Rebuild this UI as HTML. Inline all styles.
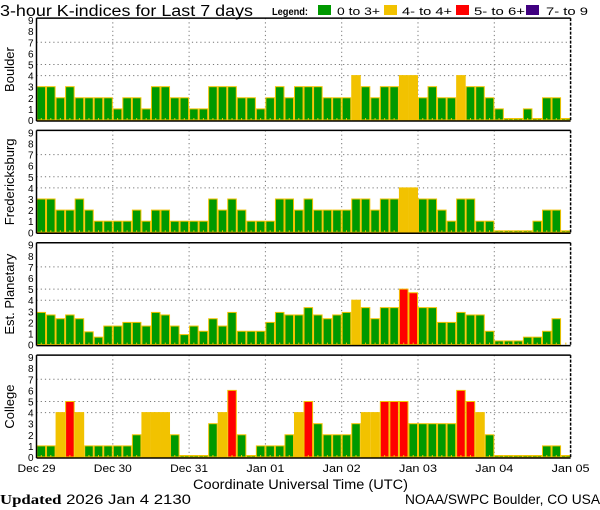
<!DOCTYPE html>
<html><head><meta charset="utf-8"><style>
html,body{margin:0;padding:0;background:#fff}
svg{display:block}
text{font-family:"Liberation Sans","DejaVu Sans",sans-serif}
</style></head><body>
<svg id="chart" width="600" height="510" viewBox="0 0 600 510" xmlns="http://www.w3.org/2000/svg">
<text x="0" y="16" font-size="15.5" fill="#000" textLength="253" lengthAdjust="spacingAndGlyphs">3-hour K-indices for Last 7 days</text>
<g>
<text x="272" y="15" font-size="10" font-weight="bold" textLength="36" lengthAdjust="spacingAndGlyphs">Legend:</text>
<rect x="318" y="5" width="13" height="10" fill="#009900"/>
<text x="337" y="15" font-size="11" textLength="43" lengthAdjust="spacingAndGlyphs">0 to 3+</text>
<rect x="384" y="5" width="13" height="10" fill="#f2c200"/>
<text x="402" y="15" font-size="11" textLength="50" lengthAdjust="spacingAndGlyphs">4- to 4+</text>
<rect x="456" y="5" width="13" height="10" fill="#ff0000"/>
<text x="474" y="15" font-size="11" textLength="51" lengthAdjust="spacingAndGlyphs">5- to 6+</text>
<rect x="526" y="5" width="13" height="10" fill="#400080"/>
<text x="546" y="15" font-size="11" textLength="42" lengthAdjust="spacingAndGlyphs">7- to 9</text>
</g>
<g id="panels"></g>
<text x="193" y="489" font-size="13.5" textLength="215" lengthAdjust="spacingAndGlyphs">Coordinate Universal Time (UTC)</text>
<text x="0" y="504" font-size="13.5" textLength="191" lengthAdjust="spacingAndGlyphs"><tspan font-family="Liberation Serif, serif" font-weight="bold">Updated</tspan> 2026 Jan  4 2130</text>
<text x="405" y="504" font-size="13.5" textLength="195" lengthAdjust="spacingAndGlyphs">NOAA/SWPC Boulder, CO USA</text>
</svg>
<script>
const stations = ["Boulder","Fredericksburg","Est. Planetary","College"];
const dayLabels = ["Dec 29","Dec 30","Dec 31","Jan 01","Jan 02","Jan 03","Jan 04","Jan 05"];
const yTicks = [0,1,2,3,4,5,6,7,8,9];
const boulder = [3,3,2,3,2,2,2,2, 1,2,2,1,3,3,2,2, 1,1,3,3,3,2,2,1, 2,3,2,3,3,3,2,2, 2,4,3,2,3,3,4,4, 2,3,2,2,4,3,3,2, 1,0,0,1,0,2,2,0];
const fredericksburg = [3,3,2,2,3,2,1,1, 1,1,2,1,2,2,1,1, 1,1,3,2,3,2,1,1, 1,3,3,2,3,2,2,2, 2,3,3,2,3,3,4,4, 3,3,2,1,3,3,1,1, 0,0,0,0,1,2,2,0];
const planetary = [2.9,2.67,2.33,2.67,2.33,1.15,0.67,1.67, 1.67,2,2,1.67,2.9,2.67,1.67,0.9, 1.67,1.2,2.33,1.67,2.9,1.2,1.2,1.2, 2,2.9,2.67,2.67,3.33,2.67,2.33,2.67, 2.9,4,3.33,2.33,3.33,3.33,5,4.67, 3.33,3.33,2,2,2.9,2.67,2.67,1.2, 0.33,0.33,0.33,0.67,0.67,1.2,2.33,null];
const college = [1,1,4,5,4,1,1,1, 1,1,2,4,4,4,2,0, 0,0,3,4,6,2,0,1, 1,1,2,4,5,3,2,2, 2,3,4,4,5,5,5,3, 3,3,3,3,6,5,4,2, 0,0,0,0,0,1,1,0];
const seriesList = [boulder,fredericksburg,planetary,college];

const NS="http://www.w3.org/2000/svg";
const X0=36.5, X1=570.6, nBars=56, UNIT=11.1;
const zeros=[120,232.3,344.6,457];
function xScale(i){return X0+(X1-X0)*i/nBars;}
function yScale(p,v){return zeros[p]-v*UNIT;}
function color(v){return v>=6.67?"#400080":v>=4.67?"#ff0000":v>=3.67?"#f2c200":"#009900";}
function mk(tag,attrs,parent){const e=document.createElementNS(NS,tag);for(const k in attrs)e.setAttribute(k,attrs[k]);parent.appendChild(e);return e;}
const root=document.getElementById('panels');
seriesList.forEach((vals,p)=>{
  const g=mk('g',{},root);
  
  
  const top=yScale(p,9)-2, bot=zeros[p]+1;
  [4,5,7].forEach(v=>{const l=mk('line',{x1:X0,x2:X1,y1:yScale(p,v),y2:yScale(p,v),stroke:'#777','stroke-dasharray':'1.2,3','stroke-width':1},g);
    });
  for(let d=1;d<7;d++){const x=xScale(d*8);const l=mk('line',{x1:x,x2:x,y1:top,y2:bot,stroke:'#777','stroke-dasharray':'1.2,3','stroke-width':1},g);
    }
  vals.forEach((v,i)=>{
    if(v===null)return;
    const x=xScale(i), w=xScale(i+1)-x;
    const h=Math.max(v*UNIT,1.5);
    const r=mk('rect',{x:x+0.5,y:zeros[p]-h,width:w-1,height:h,fill:color(v),stroke:'#f2c200','stroke-width':1},g);
    
    
  });
  for(let i=0;i<nBars;i++){const x=(xScale(i)+xScale(i+1))/2;const t=mk('line',{x1:x,x2:x,y1:zeros[p]-2,y2:zeros[p],stroke:'#f2c200','stroke-width':1},g);
    }
  mk('line',{x1:X0,x2:X1,y1:top,y2:top,stroke:'#000','stroke-width':1.5},g);
  mk('line',{x1:X0,x2:X1,y1:bot,y2:bot,stroke:'#000','stroke-width':1.5},g);
  mk('line',{x1:X0,x2:X0,y1:top,y2:bot,stroke:'#000','stroke-width':1.5},g);
  mk('line',{x1:X1,x2:X1,y1:top,y2:bot,stroke:'#000','stroke-width':1.5,'stroke-dasharray':'3,1.5'},g);
  yTicks.forEach(v=>{const t=mk('text',{x:33.5,y:yScale(p,v)+4,'font-size':10,'text-anchor':'end'},g);t.textContent=v;
    });
  const cy=(top+bot)/2;
  const s=mk('text',{x:14,y:cy,'font-size':13,'text-anchor':'middle',transform:'rotate(-90 14 '+cy+')'},g);
  s.textContent=stations[p];
  
});
dayLabels.forEach((d,i)=>{const t=mk('text',{x:xScale(i*8)-19,y:472,'font-size':11,textLength:38,lengthAdjust:'spacingAndGlyphs'},root);t.textContent=d;
  });
</script>
</body></html>
